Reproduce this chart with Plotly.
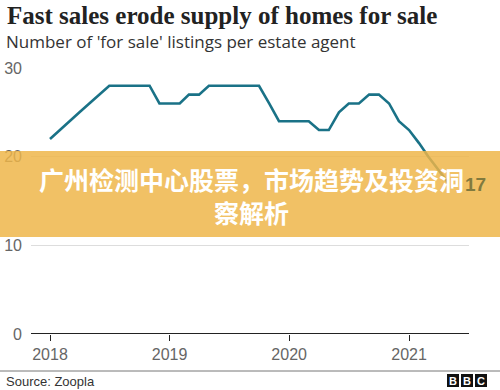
import plotly.graph_objects as go

# ---- data ----
months = [
    "2018-01-01", "2018-02-01", "2018-03-01", "2018-04-01", "2018-05-01", "2018-06-01",
    "2018-07-01", "2018-08-01", "2018-09-01", "2018-10-01", "2018-11-01", "2018-12-01",
    "2019-01-01", "2019-02-01", "2019-03-01", "2019-04-01", "2019-05-01", "2019-06-01",
    "2019-07-01", "2019-08-01", "2019-09-01", "2019-10-01", "2019-11-01", "2019-12-01",
    "2020-01-01", "2020-02-01", "2020-03-01", "2020-04-01", "2020-05-01", "2020-06-01",
    "2020-07-01", "2020-08-01", "2020-09-01", "2020-10-01", "2020-11-01", "2020-12-01",
    "2021-01-01", "2021-02-01", "2021-03-01", "2021-04-01", "2021-05-01",
]
listings = [
    22, 23, 24, 25, 26, 27, 28, 28, 28, 28, 28, 26,
    26, 26, 27, 27, 28, 28, 28, 28, 28, 28, 26, 24,
    24, 24, 24, 23, 23, 25, 26, 26, 27, 27, 26, 24,
    23, 21.5, 20, 18.5, 17,
]
end_label = "17"
x_ticks = ["2018-01-01", "2019-01-01", "2020-01-01", "2021-01-01"]
x_tick_text = ["2018", "2019", "2020", "2021"]
y_ticks = [0, 10, 20, 30]

title = "Fast sales erode supply of homes for sale"
subtitle = "Number of 'for sale' listings per estate agent"
source = "Source: Zoopla"
banner_line1 = "广州检测中心股票，市场趋势及投资洞"
banner_line2 = "察解析"

# ---- layout geometry (pixels) ----
W, H = 500, 390
L, R, T, B = 31, 31, 68, 56
PW, PH = W - L - R, H - T - B


def px(xp):
    return (xp - L) / PW


def py(yp):
    return (H - B - yp) / PH


teal = "#1a7287"

fig = go.Figure()
fig.add_trace(go.Scatter(
    x=months, y=listings, mode="lines",
    line=dict(color=teal, width=2.6),
    hoverinfo="skip", showlegend=False,
))

fig.update_layout(
    width=W, height=H,
    margin=dict(l=L, r=R, t=T, b=B, pad=0),
    paper_bgcolor="white", plot_bgcolor="white",
    font=dict(family="Liberation Sans", color="#666666"),
    xaxis=dict(
        type="date",
        range=["2017-11-04", "2021-07-03"],
        tickvals=x_ticks, ticktext=x_tick_text,
        showgrid=False, zeroline=False,
        showline=False,
        ticks="outside", ticklen=6, tickwidth=1, tickcolor="#222222",
        tickfont=dict(size=16, color="#666666"),
        automargin=False,
        fixedrange=True,
    ),
    yaxis=dict(
        range=[0, 30],
        tickvals=y_ticks,
        showgrid=True, gridcolor="#dddddd", gridwidth=1,
        zeroline=False, showline=False, ticks="",
        ticklabelstandoff=8,
        tickfont=dict(size=16, color="#666666"),
        automargin=False,
        fixedrange=True,
    ),
    shapes=[
        dict(type="line", xref="paper", yref="y", x0=0, x1=1, y0=0, y1=0,
             line=dict(color="#222222", width=2), layer="above"),
        dict(type="rect", xref="paper", yref="paper",
             x0=px(-5), x1=px(W + 5), y0=py(237), y1=py(151),
             fillcolor="#eeb548", opacity=0.84, line=dict(width=0), layer="above"),
        dict(type="line", xref="paper", yref="paper", x0=px(0), x1=px(W),
             y0=py(371), y1=py(371), line=dict(color="#777777", width=1)),
        dict(type="rect", xref="paper", yref="paper", x0=px(447), x1=px(459),
             y0=py(387), y1=py(374), fillcolor="#111111", line=dict(width=0)),
        dict(type="rect", xref="paper", yref="paper", x0=px(461), x1=px(473),
             y0=py(387), y1=py(374), fillcolor="#111111", line=dict(width=0)),
        dict(type="rect", xref="paper", yref="paper", x0=px(475), x1=px(487),
             y0=py(387), y1=py(374), fillcolor="#111111", line=dict(width=0)),
    ],
    annotations=[
        dict(text="<b>" + title + "</b>", xref="paper", yref="paper",
             x=px(5), y=py(16), xanchor="left", yanchor="middle", showarrow=False,
             font=dict(family="Liberation Serif", size=25, color="#222222")),
        dict(text=subtitle, xref="paper", yref="paper",
             x=px(4), y=py(42), xanchor="left", yanchor="middle", showarrow=False,
             font=dict(family="Open Sans", size=17, color="#333333")),
        dict(text=source, xref="paper", yref="paper",
             x=px(4), y=py(381), xanchor="left", yanchor="middle", showarrow=False,
             font=dict(family="Liberation Sans", size=13, color="#333333")),
        dict(text="<b>B</b>", xref="paper", yref="paper", x=px(453), y=py(380.5),
             xanchor="center", yanchor="middle", showarrow=False,
             font=dict(family="Liberation Sans", size=11, color="white")),
        dict(text="<b>B</b>", xref="paper", yref="paper", x=px(467), y=py(380.5),
             xanchor="center", yanchor="middle", showarrow=False,
             font=dict(family="Liberation Sans", size=11, color="white")),
        dict(text="<b>C</b>", xref="paper", yref="paper", x=px(481), y=py(380.5),
             xanchor="center", yanchor="middle", showarrow=False,
             font=dict(family="Liberation Sans", size=11, color="white")),
        dict(text="<b>" + banner_line1 + "</b>", xref="paper", yref="paper",
             x=px(251), y=py(179), xanchor="center", yanchor="middle", showarrow=False,
             font=dict(family="Noto Sans CJK SC", size=25, color="white")),
        dict(text="<b>" + banner_line2 + "</b>", xref="paper", yref="paper",
             x=px(251), y=py(212), xanchor="center", yanchor="middle", showarrow=False,
             font=dict(family="Noto Sans CJK SC", size=25, color="white")),
        dict(text="<b>" + end_label + "</b>", xref="x", yref="y",
             x=months[-1], y=listings[-1], xanchor="left", yanchor="middle",
             xshift=15, yshift=-1, showarrow=False,
             font=dict(family="Liberation Sans", size=19, color="#817a3e")),
    ],
)

fig.write_html(
    "out.html",
    config={"displayModeBar": False},
    post_script="document.body.style.margin='0';document.body.style.overflow='hidden';",
)
